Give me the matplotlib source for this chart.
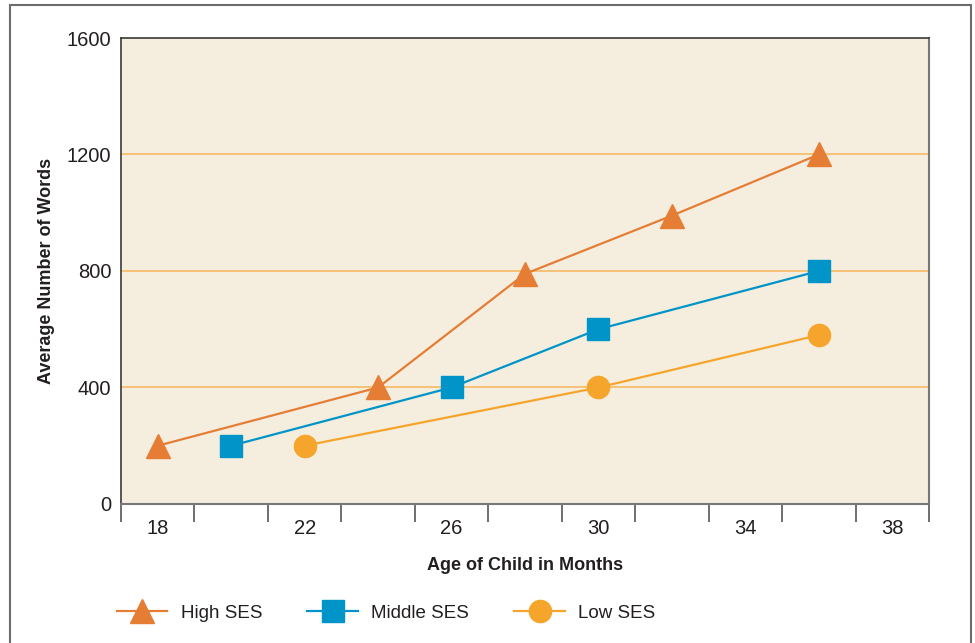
import numpy as np
import matplotlib
matplotlib.use("Agg")
from matplotlib import pyplot as plt
from matplotlib.patches import Rectangle

plt.rcParams['font.family'] = ['Liberation Sans', 'DejaVu Sans']

# Vocabulary size by age, split by socio-economic status
high_age = [18, 24, 28, 32, 36]
high_words = [200, 400, 790, 990, 1200]

middle_age = [20, 26, 30, 36]
middle_words = [200, 400, 600, 800]

low_age = [22, 30, 36]
low_words = [200, 400, 580]

series_labels = ["High SES", "Middle SES", "Low SES"]

x_labels = [18, 22, 26, 30, 34, 38]
y_ticks = [0, 400, 800, 1200, 1600]

orange = "#E67D35"
blue = "#0094C9"
gold = "#F5A52B"
text_col = "#231F20"

fig = plt.figure(figsize=(9.75, 6.43), dpi=100)

# thin frame around the whole figure
fig.patches.append(Rectangle((10 / 975, -0.05), 961 / 975, 1.05 - 5 / 643,
                             transform=fig.transFigure, fill=False,
                             edgecolor="#6d6d6d", linewidth=1.5))

ax = fig.add_axes([0.1241, 0.2162, 0.8287, 0.7247])
ax.set_facecolor("#F5EEDF")

# gridlines only between the ends
for yv in y_ticks[1:-1]:
    ax.axhline(yv, color="#F7BE6E", linewidth=1.3, zorder=1)

ms = 16
ax.plot(high_age, high_words, color=orange, lw=1.6, marker="^", ms=ms + 1,
        label=series_labels[0], zorder=3)
ax.plot(middle_age, middle_words, color=blue, lw=1.6, marker="s", ms=ms,
        label=series_labels[1], zorder=3)
ax.plot(low_age, low_words, color=gold, lw=1.6, marker="o", ms=ms,
        label=series_labels[2], zorder=3)

ax.set_xlim(17, 39)
ax.set_ylim(0, 1600)

ax.set_yticks(y_ticks)
ax.tick_params(axis="y", length=0, pad=7, labelsize=14.5, labelcolor=text_col)

ax.set_xticks(x_labels)
ax.set_xticks(np.arange(17, 40, 2), minor=True)
ax.tick_params(axis="x", which="major", length=0, pad=11, labelsize=14.5,
               labelcolor=text_col)
ax.tick_params(axis="x", which="minor", length=13, width=1.2, color="#555555",
               direction="out")

for side in ["left", "top"]:
    ax.spines[side].set_color("#3a3a3a")
    ax.spines[side].set_linewidth(1.2)
for side in ["right", "bottom"]:
    ax.spines[side].set_color("#777777")
    ax.spines[side].set_linewidth(1.5)

ax.set_xlabel("Age of Child in Months", fontsize=13, fontweight="bold",
              color=text_col, va="center")
ax.xaxis.set_label_coords(0.5, -0.131)
ax.set_ylabel("Average Number of Words", fontsize=13, fontweight="bold",
              color=text_col, va="center")
ax.yaxis.set_label_coords(-0.092, 0.5)

ax.legend(loc="center left", bbox_to_anchor=(-0.026, -0.235), ncol=3,
          frameon=False, fontsize=13.5, handlelength=2.7, handletextpad=0.7,
          columnspacing=2.42, labelcolor=text_col)

fig.savefig("out.png", dpi=100)
